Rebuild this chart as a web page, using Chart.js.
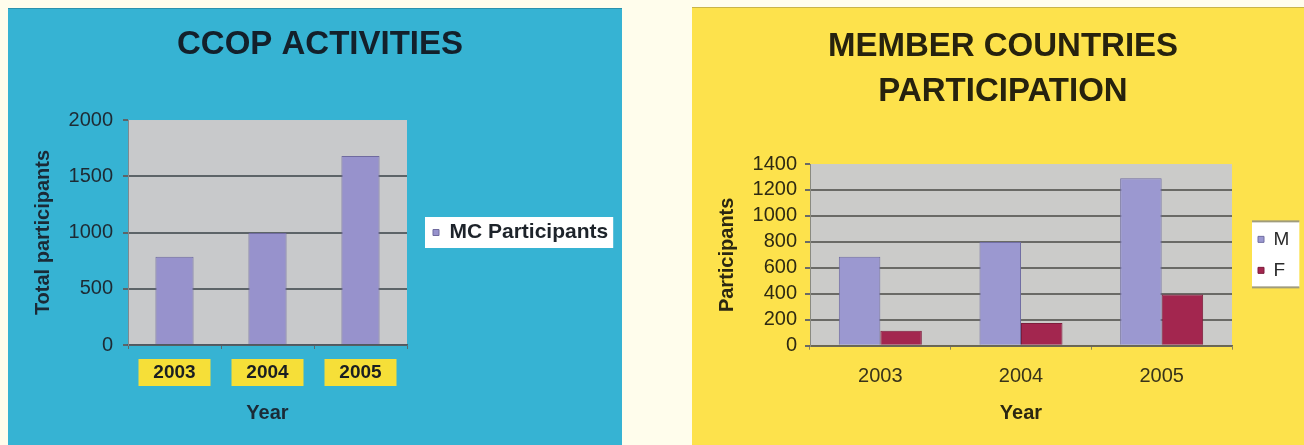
<!DOCTYPE html>
<html><head><meta charset="utf-8">
<script src="https://cdn.jsdelivr.net/npm/chart.js@4.4.0/dist/chart.umd.min.js"></script>
<style>
html,body{margin:0;padding:0;background:#fffdec;width:1304px;height:445px;overflow:hidden;}
#p1{position:absolute;left:8px;top:8px;width:614px;height:437px;background:#36b3d3;}
#p2{position:absolute;left:692px;top:7px;width:612px;height:438px;background:#fde24c;}
#p1 canvas,#p2 canvas{position:absolute;left:0;top:0;}
#p2:before{content:"";position:absolute;left:0;top:0;width:100%;height:1px;background:#c9b448;}
#p1:before{content:"";position:absolute;left:0;top:0;width:100%;height:1px;background:#2a92ad;}
</style></head>
<body>
<div id="p1"><canvas id="c1" width="614" height="437"></canvas></div>
<div id="p2"><canvas id="c2" width="612" height="438"></canvas></div>
<script>
// ---- data ----
const years = ['2003', '2004', '2005'];
const totalParticipants = [785, 995, 1680];
const maleParticipants = [685, 800, 1290];
const femaleParticipants = [115, 175, 395];
const leftTitle = 'CCOP ACTIVITIES';
const rightTitle = ['MEMBER COUNTRIES', 'PARTICIPATION'];
const leftYMax = 2000, leftYStep = 500;
const rightYMax = 1400, rightYStep = 200;

Chart.defaults.font.family = "'Liberation Sans', Arial, Helvetica, sans-serif";
Chart.defaults.animation = false;

const deco = {
  id: 'deco',
  beforeDraw(chart, args, o) {
    const {ctx, chartArea: a} = chart;
    ctx.save();
    ctx.fillStyle = o.plotColor;
    ctx.fillRect(a.left, a.top, a.right - a.left, a.bottom - a.top);
    const lg = chart.legend;
    if (lg && lg.legendHitBoxes && lg.legendHitBoxes.length) {
      const hb = lg.legendHitBoxes;
      const l = Math.min(...hb.map(h => h.left)) - o.lp.l;
      const r = Math.max(...hb.map(h => h.left + h.width)) + o.lp.r;
      const t = Math.min(...hb.map(h => h.top)) - o.lp.t;
      const b = Math.max(...hb.map(h => h.top + h.height)) + o.lp.b;
      ctx.fillStyle = '#ffffff';
      ctx.fillRect(l, t, r - l, b - t);
      if (o.rule) {
        ctx.fillStyle = o.rule;
        ctx.fillRect(l, t - 1, r - l, 2);
        ctx.fillRect(l, b - 1, r - l, 2);
      }
    }
    if (o.tickBoxes) {
      const xs = chart.scales.x;
      ctx.fillStyle = o.tickBoxes;
      xs.ticks.forEach((tk, i) => {
        const x = xs.getPixelForTick(i);
        ctx.fillRect(x - 36, a.bottom + 14, 72, 27);
      });
    }
    ctx.restore();
  }
};

function padAxis(canvasW, chartRight, gap) {
  return {
    type: 'linear', position: 'right', weight: 1500, display: true,
    ticks: {display: false}, grid: {display: false}, border: {display: false},
    afterFit(s) {
      const lw = s.chart.legend ? s.chart.legend.width : 0;
      s.width = Math.max(0, canvasW - chartRight - gap - lw);
    }
  };
}
function gapAxis(gap) {
  return {
    type: 'linear', position: 'right', weight: 0, display: true,
    ticks: {display: false}, grid: {display: false}, border: {display: false},
    afterFit(s) { s.width = gap; }
  };
}
const plainNum = v => String(v);

// ---- left chart ----
new Chart(document.getElementById('c1'), {
  type: 'bar',
  data: {
    labels: years,
    datasets: [{
      label: 'MC Participants',
      data: totalParticipants,
      backgroundColor: '#9792cc',
      borderColor: '#6f6a9f',
      borderWidth: 1,
      categoryPercentage: 0.82,
      barPercentage: 0.5
    }]
  },
  options: {
    responsive: false,
    layout: {padding: {left: 10, right: 0, top: 0, bottom: 0}},
    plugins: {
      title: {
        display: true, text: leftTitle, color: '#13202b',
        font: {size: 33, weight: 'bold', lineHeight: 1.364},
        padding: {top: 14.5, bottom: 52.5}
      },
      legend: {
        display: true, position: 'right', align: 'center', fullSize: false, maxWidth: 400,
        labels: {
          boxWidth: 6, boxHeight: 6, padding: 12, color: '#1d232a',
          font: {size: 21, weight: 'bold'}
        }
      },
      tooltip: {enabled: false},
      deco: {plotColor: '#c8c9cb', lp: {l: 8, r: 5, t: 5, b: 5}, tickBoxes: '#f6df38'}
    },
    scales: {
      x: {
        grid: {display: true, drawOnChartArea: false, drawTicks: true, tickLength: 4, color: '#5a6a70', offset: true},
        border: {display: true, color: '#505860', width: 1.5},
        ticks: {color: '#1a1e22', font: {size: 19, weight: 'bold'}, padding: 12.6},
        title: {display: true, text: 'Year', color: '#1b2a36', font: {size: 20, weight: 'bold'}, padding: {top: 0, bottom: 20}},
        afterFit(s) { s.height = 100; }
      },
      y: {
        min: 0, max: leftYMax,
        ticks: {stepSize: leftYStep, autoSkip: false, callback: plainNum, color: '#1e2a33', font: {size: 20}, padding: 10},
        grid: {
          color: c => (c.tick && c.tick.value === leftYMax) ? 'rgba(0,0,0,0)' : '#5d6468',
          tickColor: '#5d6468', lineWidth: 2, tickLength: 5
        },
        border: {display: true, color: '#7e8a90', width: 1},
        title: {display: true, text: 'Total participants', color: '#1b2a36', font: {size: 20, weight: 'bold'}, padding: {top: 13, bottom: 0}},
        afterFit(s) { s.width = 110; }
      },
      gapR: gapAxis(14),
      padR: padAxis(614, 399, 14)
    }
  },
  plugins: [deco]
});

// ---- right chart ----
new Chart(document.getElementById('c2'), {
  type: 'bar',
  data: {
    labels: years,
    datasets: [{
      label: 'M',
      data: maleParticipants,
      backgroundColor: '#9b98d0',
      borderColor: '#716ea3',
      borderWidth: 1,
      categoryPercentage: 0.59,
      barPercentage: 1.0
    }, {
      label: 'F',
      data: femaleParticipants,
      backgroundColor: '#a3264f',
      borderColor: '#7e1d3c',
      borderWidth: 1,
      categoryPercentage: 0.59,
      barPercentage: 1.0
    }]
  },
  options: {
    responsive: false,
    layout: {padding: {left: 10, right: 0, top: 0, bottom: 0}},
    plugins: {
      title: {
        display: true, text: rightTitle, color: '#26220e',
        font: {size: 33, weight: 'bold', lineHeight: 1.364},
        padding: {top: 17, bottom: 50}
      },
      legend: {
        display: true, position: 'right', align: 'center', fullSize: false, maxWidth: 400,
        labels: {
          boxWidth: 6, boxHeight: 6, padding: 12, color: '#2b2b2b',
          font: {size: 19}
        }
      },
      tooltip: {enabled: false},
      deco: {plotColor: '#cbcbc9', lp: {l: 6, r: 10, t: 8.5, b: 7.5}, rule: '#a09c7c'}
    },
    scales: {
      x: {
        grid: {display: true, drawOnChartArea: false, drawTicks: true, tickLength: 4, color: '#8a8460', offset: true},
        border: {display: true, color: '#6a6650', width: 1.5},
        ticks: {color: '#38331a', font: {size: 20}, padding: 15},
        title: {display: true, text: 'Year', color: '#2b2712', font: {size: 20, weight: 'bold'}, padding: {top: 0, bottom: 20}},
        afterFit(s) { s.height = 99.3; }
      },
      y: {
        min: 0, max: rightYMax,
        ticks: {stepSize: rightYStep, autoSkip: false, callback: plainNum, color: '#2e2a12', font: {size: 20}, padding: 8},
        grid: {
          color: c => (c.tick && c.tick.value === rightYMax) ? 'rgba(0,0,0,0)' : '#6a6a66',
          tickColor: '#6a6a66', lineWidth: 2, tickLength: 5
        },
        border: {display: true, color: '#8a8a80', width: 1},
        title: {display: true, text: 'Participants', color: '#2b2712', font: {size: 20, weight: 'bold'}, padding: {top: 13, bottom: 0}},
        afterFit(s) { s.width = 108; }
      },
      gapR: gapAxis(14),
      padR: padAxis(612, 540, 14)
    }
  },
  plugins: [deco]
});
</script>
</body></html>
